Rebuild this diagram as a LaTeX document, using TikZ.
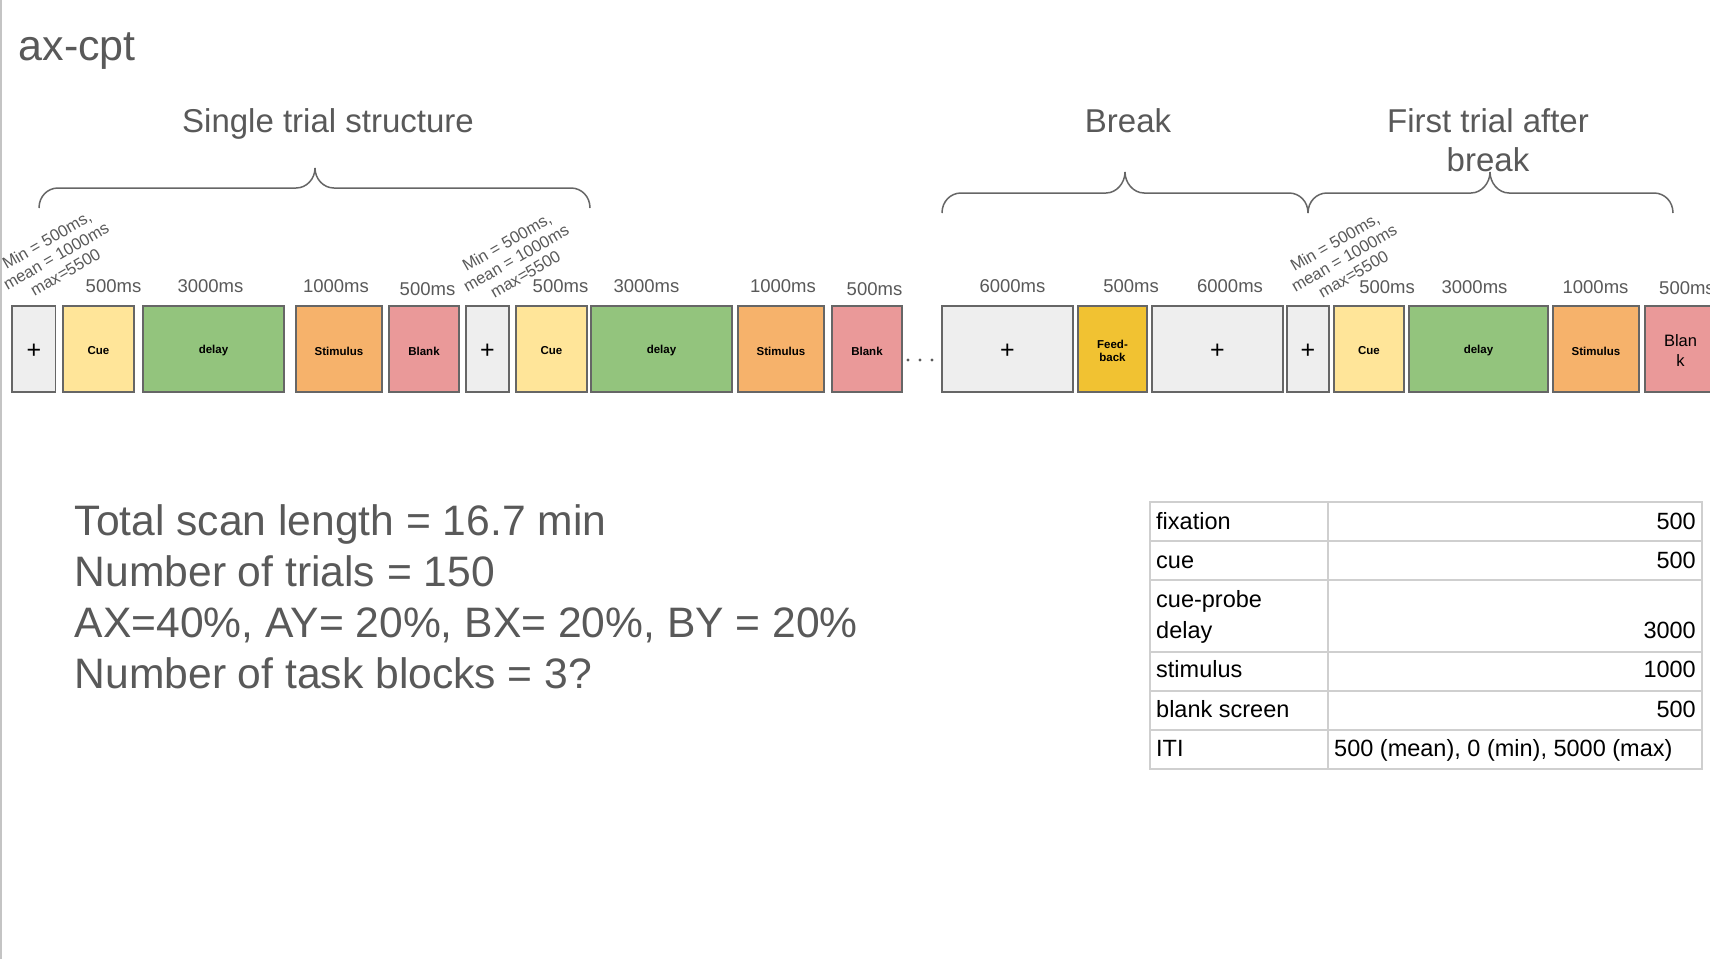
\documentclass[tikz,border=0pt]{standalone}
\usepackage{fontspec}
\setmainfont{Liberation Sans}
\definecolor{fixgray}{HTML}{EEEEEE}
\definecolor{cueyellow}{HTML}{FFE599}
\definecolor{delaygreen}{HTML}{93C47D}
\definecolor{stimorange}{HTML}{F6B26B}
\definecolor{blankpink}{HTML}{EA9999}
\definecolor{fbgold}{HTML}{F1C232}
\definecolor{bordergray}{HTML}{666666}
\definecolor{textgray}{HTML}{595959}
\definecolor{tablegray}{HTML}{CFCFCF}
\definecolor{edgegray}{HTML}{C4C4C4}
\newcommand\lw[1]{\raisebox{-2pt}[\height][\depth]{#1}}
\newcommand\gbrace[6]{%
  \draw[bracestyle] (#1,#4) .. controls (#1,#5+8.5) and (#1+8.5,#5) .. (#1+19,#5)
    -- (#2-19,#5) .. controls (#2-8.5,#5) and (#2,#6+11) .. (#2,#6)
    .. controls (#2,#6+11) and (#2+8.5,#5) .. (#2+19,#5)
    -- (#3-19,#5) .. controls (#3-8.5,#5) and (#3,#5+8.5) .. (#3,#4);}
\begin{document}
\begin{tikzpicture}[x=1pt,y=-1pt,
  blk/.style={draw=bordergray, line width=1.6pt, minimum height=86pt, inner sep=0pt,
    align=center, text=black, font=\fontsize{11.5}{13.7}\selectfont\bfseries},
  fixb/.style={blk, fill=fixgray, font=\fontsize{25}{26}\selectfont},
  cueb/.style={blk, fill=cueyellow},
  delayb/.style={blk, fill=delaygreen},
  stimb/.style={blk, fill=stimorange},
  blankb/.style={blk, fill=blankpink},
  fbb/.style={blk, fill=fbgold},
  intext/.style={inner sep=0pt, align=center, text=black},
  dur/.style={text=textgray, font=\fontsize{18.5}{20}\selectfont, anchor=base, inner sep=0pt},
  rot/.style={text=textgray, font=\fontsize{16.5}{18.5}\selectfont, rotate=30, align=center, inner sep=0pt},
  ttl/.style={text=textgray, font=\fontsize{33}{40}\selectfont, anchor=base, inner sep=0pt},
  big/.style={text=textgray, font=\fontsize{42.6}{51}\selectfont, anchor=base west, inner sep=0pt},
  tab/.style={text=black, font=\fontsize{23.5}{28}\selectfont, inner sep=0pt},
  bracestyle/.style={draw=bordergray, line width=1.5pt},
  dotstyle/.style={fill=textgray, draw=none}
]
\useasboundingbox (0,0) rectangle (1710,959);
\fill[white] (0,0) rectangle (1710,959);
\begin{scope}
\clip (0,0) rectangle (1710,959);
\draw[edgegray, line width=1.5pt] (0.75,0) -- (0.75,959);

% title
\node[text=textgray, font=\fontsize{43}{48}\selectfont, anchor=base west, inner sep=0pt] (title) at (18.5,60) {ax-cpt};

% section titles
\node[ttl] (t1) at (328,132) {Single trial structure};
\node[ttl] (t2) at (1128,132) {Break};
\node[ttl] (t3a) at (1488,132) {First trial after};
\node[ttl] (t3b) at (1488,171) {break};

% braces
\gbrace{39}{315}{590}{208}{188}{168}
\gbrace{942}{1125}{1308}{213}{193}{172}
\gbrace{1308}{1490}{1673}{213}{193}{172}

% boxes
\node[fixb, minimum width=43.6pt] (f1) at (33.8,349) {\lw{+}};
\node[cueb, minimum width=71pt] (c1) at (98.5,349) {\lw{Cue}};
\node[delayb, minimum width=141pt] (d1) at (213.5,349) {\lw{delay}};
\node[stimb, minimum width=86pt] (s1) at (339,349) {\lw{Stimulus}};
\node[blankb, minimum width=70pt] (b1) at (424,349) {\lw{Blank}};
\node[fixb, minimum width=43pt] (f2) at (487.5,349) {\lw{+}};
\node[cueb, minimum width=71pt] (c2) at (551.5,349) {\lw{Cue}};
\node[delayb, minimum width=141pt] (d2) at (661.5,349) {\lw{delay}};
\node[stimb, minimum width=86pt] (s2) at (781,349) {\lw{Stimulus}};
\node[blankb, minimum width=70pt] (b2) at (867,349) {\lw{Blank}};
\fill[dotstyle] (908,360) circle (1.6);
\fill[dotstyle] (920,360) circle (1.6);
\fill[dotstyle] (932,360) circle (1.6);
\node[fixb, minimum width=131pt] (bf1) at (1007.5,349) {\lw{+}};
\node[fbb, minimum width=69pt] (fb) at (1112.5,349) {};
\node[intext, font=\fontsize{11.5}{13.7}\selectfont\bfseries] (fbt) at (1112.5,351) {Feed-\\back};
\node[fixb, minimum width=131pt] (bf2) at (1217.5,349) {\lw{+}};
\node[fixb, minimum width=42pt] (f3) at (1308,349) {\lw{+}};
\node[cueb, minimum width=70pt] (c3) at (1369,349) {\lw{Cue}};
\node[delayb, minimum width=139pt] (d3) at (1478.5,349) {\lw{delay}};
\node[stimb, minimum width=86pt] (s3) at (1596,349) {\lw{Stimulus}};
\node[blankb, minimum width=71pt] (b3) at (1680.5,349) {};
\node[intext, font=\fontsize{16.5}{20}\selectfont] (b3t) at (1680.5,351) {Blan\\k};

% durations
\node[dur] (l1) at (113.5,292) {500ms};
\node[dur] (l2) at (210.5,292) {3000ms};
\node[dur] (l3) at (336,292) {1000ms};
\node[dur] (l4) at (427.5,295) {500ms};
\node[dur] (l5) at (560.5,292) {500ms};
\node[dur] (l6) at (646.5,292) {3000ms};
\node[dur] (l7) at (783,292) {1000ms};
\node[dur] (l8) at (874.5,295) {500ms};
\node[dur] (l9) at (1012.5,292) {6000ms};
\node[dur] (l10) at (1131,292) {500ms};
\node[dur] (l11) at (1230,292) {6000ms};
\node[dur] (l12) at (1387,293) {500ms};
\node[dur] (l13) at (1474.5,293) {3000ms};
\node[dur] (l14) at (1595.5,293) {1000ms};
\node[dur, anchor=base west] (l15) at (1659,294) {500ms};

% rotated ITI labels
\node[rot] (r1) at (56,256) {Min = 500ms,\\mean = 1000ms\\max=5500};
\node[rot] (r2) at (516,258) {Min = 500ms,\\mean = 1000ms\\max=5500};
\node[rot] (r3) at (1344,258) {Min = 500ms,\\mean = 1000ms\\max=5500};

% summary text
\node[big] (s1t) at (74.5,535) {Total scan length = 16.7 min};
\node[big] (s2t) at (74.5,586) {Number of trials = 150};
\node[big] (s3t) at (74.5,637) {AX=40\%, AY= 20\%, BX= 20\%, BY = 20\%};
\node[big] (s4t) at (74.5,688) {Number of task blocks = 3?};

% table
\draw[tablegray, line width=1.3pt] (1150,502) rectangle (1702,769);
\foreach \yy in {541,580,652,691,730} \draw[tablegray, line width=1.3pt] (1150,\yy) -- (1702,\yy);
\draw[tablegray, line width=1.3pt] (1328,502) -- (1328,769);
\node[tab, anchor=base west] (k1) at (1156,529.5) {fixation};
\node[tab, anchor=base east] (v1) at (1696,529.5) {500};
\node[tab, anchor=base west] (k2) at (1156,568.5) {cue};
\node[tab, anchor=base east] (v2) at (1696,568.5) {500};
\node[tab, anchor=base west] (k3a) at (1156,607) {cue-probe};
\node[tab, anchor=base west] (k3b) at (1156,638.5) {delay};
\node[tab, anchor=base east] (v3) at (1696,638.5) {3000};
\node[tab, anchor=base west] (k4) at (1156,677.5) {stimulus};
\node[tab, anchor=base east] (v4) at (1696,677.5) {1000};
\node[tab, anchor=base west] (k5) at (1156,717) {blank screen};
\node[tab, anchor=base east] (v5) at (1696,717) {500};
\node[tab, anchor=base west] (k6) at (1156,756.5) {ITI};
\node[tab, anchor=base west] (v6) at (1334,756.5) {500 (mean), 0 (min), 5000 (max)};
\end{scope}
\end{tikzpicture}
\end{document}
